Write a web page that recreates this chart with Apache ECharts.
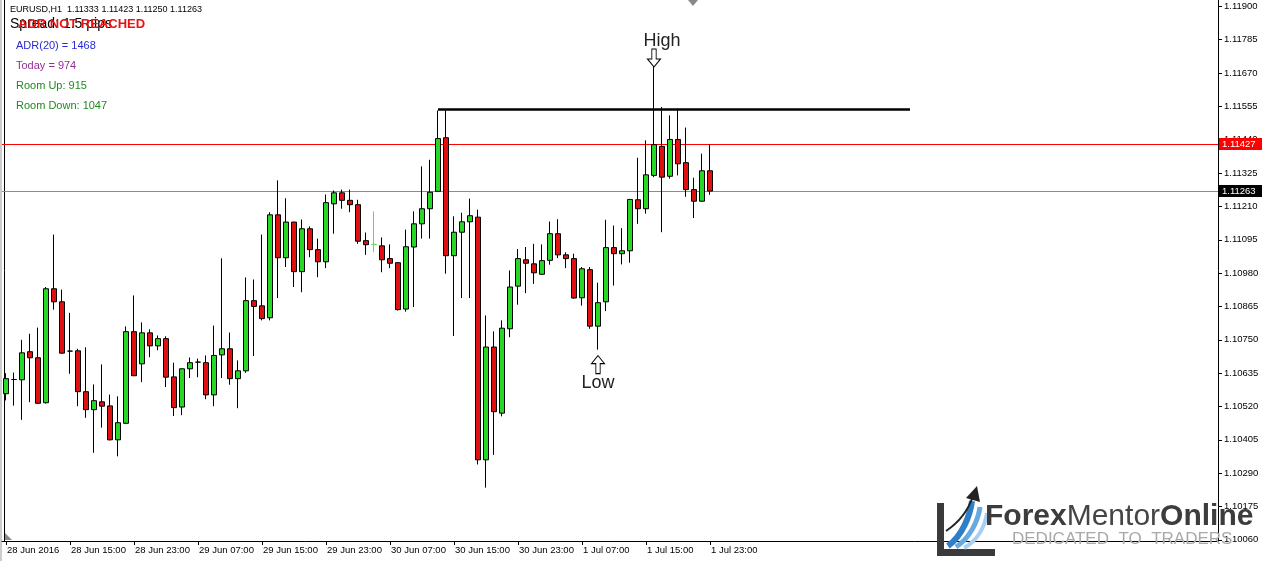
<!DOCTYPE html>
<html><head><meta charset="utf-8">
<script src="https://cdn.jsdelivr.net/npm/echarts@6/dist/echarts.min.js"></script>
<style>html,body{margin:0;padding:0;background:#fff}#c{width:1262px;height:561px}</style>
</head><body><div id="c"></div>
<script>
// EURUSD H1, 28 Jun 2016 07:00 .. 1 Jul 2016 23:00
const opens=[
1.10564,1.10613,1.10612,1.10709,1.10688,1.10533,1.10926,1.10881,1.10711,1.10712,
1.10571,1.10509,1.10536,1.10522,1.10405,1.10462,1.10778,1.10667,1.10774,1.10729,
1.10754,1.10622,1.10518,1.10650,1.10673,1.10671,1.10560,1.10698,1.10719,1.10616,
1.10643,1.10885,1.10867,1.10826,1.11181,1.11033,1.11156,1.10985,1.11133,1.11061,
1.11019,1.11219,1.11257,1.11231,1.11216,1.11092,1.11079,1.11074,1.11030,1.11016,
1.10856,1.11070,1.11150,1.11202,1.11262,1.11447,1.11040,1.11121,1.11157,1.11173,
1.10336,1.10725,1.10497,1.10788,1.10935,1.11026,1.11012,1.10976,1.11024,1.11116,
1.11043,1.11030,1.10895,1.10992,1.10797,1.10881,1.11068,1.11047,1.11057,1.11233,
1.11202,1.11317,1.11417,1.11314,1.11441,1.11361,1.11268,1.11228,1.11333];
const closes=[
1.10616,1.10613,1.10705,1.10688,1.10531,1.10926,1.10881,1.10704,1.10711,1.10571,
1.10509,1.10540,1.10521,1.10405,1.10464,1.10778,1.10626,1.10774,1.10729,1.10754,
1.10621,1.10516,1.10650,1.10671,1.10673,1.10560,1.10696,1.10719,1.10616,1.10643,
1.10885,1.10865,1.10823,1.11181,1.11033,1.11156,1.10985,1.11133,1.11061,1.11019,
1.11223,1.11257,1.11231,1.11216,1.11090,1.11078,1.11079,1.11026,1.11014,1.10854,
1.11071,1.11150,1.11202,1.11259,1.11444,1.11040,1.11121,1.11157,1.11178,1.10336,
1.10725,1.10502,1.10790,1.10932,1.11030,1.11014,1.10981,1.11023,1.11116,1.11043,
1.11030,1.10894,1.10995,1.10797,1.10878,1.11068,1.11047,1.11057,1.11234,1.11202,
1.11319,1.11423,1.11311,1.11441,1.11357,1.11268,1.11228,1.11333,1.11263];
const highs=[
1.10635,1.10637,1.10750,1.10771,1.10792,1.10932,1.11113,1.10923,1.10843,1.10719,
1.10724,1.10596,1.10665,1.10561,1.10555,1.10796,1.10903,1.10810,1.10786,1.10765,
1.10762,1.10671,1.10651,1.10689,1.10685,1.10696,1.10799,1.11031,1.10775,1.10679,
1.10965,1.10958,1.11113,1.11190,1.11300,1.11238,1.11157,1.11165,1.11141,1.11099,
1.11251,1.11265,1.11268,1.11268,1.11233,1.11120,1.11193,1.11103,1.11079,1.11017,
1.11130,1.11193,1.11348,1.11371,1.11541,1.11541,1.11176,1.11188,1.11237,1.11199,
1.10834,1.10779,1.10817,1.10989,1.11063,1.11070,1.11081,1.11079,1.11158,1.11166,
1.11052,1.11047,1.11001,1.11001,1.10947,1.11164,1.11144,1.11135,1.11236,1.11378,
1.11438,1.11691,1.11553,1.11524,1.11547,1.11482,1.11309,1.11392,1.11423];
const lows=[
1.10541,1.10523,1.10474,1.10535,1.10529,1.10530,1.10854,1.10702,1.10633,1.10521,
1.10481,1.10360,1.10447,1.10403,1.10348,1.10460,1.10625,1.10604,1.10690,1.10714,
1.10587,1.10487,1.10490,1.10618,1.10621,1.10545,1.10521,1.10618,1.10595,1.10514,
1.10636,1.10694,1.10817,1.10817,1.10894,1.11001,1.10932,1.10914,1.11035,1.10966,
1.10997,1.11116,1.11202,1.11190,1.11081,1.11043,1.11052,1.10983,1.10997,1.10851,
1.10847,1.10863,1.11099,1.11099,1.11261,1.10978,1.10763,1.10894,1.10894,1.10320,
1.10240,1.10353,1.10486,1.10759,1.10871,1.10911,1.10943,1.10974,1.11009,1.11032,
1.10997,1.10892,1.10868,1.10788,1.10716,1.10849,1.10937,1.11010,1.11016,1.11150,
1.11185,1.11311,1.11121,1.11306,1.11317,1.11243,1.11170,1.11227,1.11250];
const xTickLabels=['28 Jun 2016','28 Jun 15:00','28 Jun 23:00','29 Jun 07:00','29 Jun 15:00','29 Jun 23:00',
'30 Jun 07:00','30 Jun 15:00','30 Jun 23:00','1 Jul 07:00','1 Jul 15:00','1 Jul 23:00'];
const yTicks=[1.10060,1.10175,1.10290,1.10405,1.10520,1.10635,1.10750,1.10865,1.10980,1.11095,
1.11210,1.11325,1.11440,1.11555,1.11670,1.11785,1.11900];
const bidPrice=1.11263, askLine=1.11427, resistance=1.11545;
const infoLines=['ADR(20) = 1468','Today = 974','Room Up: 915','Room Down: 1047'];

const SLOTS=152;
const cats=[];
const t0=Date.UTC(2016,5,28,7);
for(let i=0;i<SLOTS;i++){cats.push(new Date(t0+i*3600000).toISOString().slice(0,16).replace('T',' '));}
const nBars=opens.length;
const candleData=opens.map((o,i)=>{
  const it={value:[o,closes[i],lows[i],highs[i]]};
  if(i===46){it.itemStyle={borderColor:'#5fdc5f',borderColor0:'#5fdc5f',borderColorDoji:'#5fdc5f'};}
  return it;
});
const tickShow=(i)=> i%8===0 && i<nBars;
const FF='"Liberation Sans", Arial, sans-serif';
const GL=2, GR=44;

const chart=echarts.init(document.getElementById('c'),null,{renderer:'canvas'});
chart.setOption({
  animation:false,
  backgroundColor:'#fff',
  grid:{left:GL,right:GR,top:0,bottom:20},
  xAxis:{type:'category',data:cats,boundaryGap:true,
    axisLine:{show:true,lineStyle:{color:'#000',width:1}},
    axisTick:{show:true,alignWithLabel:true,interval:(i)=>tickShow(i),length:4,lineStyle:{color:'#000'}},
    axisLabel:{interval:(i)=>tickShow(i),formatter:(v,i)=>tickShow(i)?xTickLabels[i/8]:'',align:'left',
      fontSize:9.5,fontFamily:FF,color:'#000',margin:4,padding:[0,0,0,1]},
    splitLine:{show:false}},
  yAxis:{type:'value',position:'right',min:1.10056,max:1.11922,scale:true,
    axisLine:{show:true,lineStyle:{color:'#000',width:1}},
    axisTick:{show:true,customValues:yTicks,length:4,lineStyle:{color:'#000'}},
    axisLabel:{customValues:yTicks,formatter:(v)=>v.toFixed(5),fontSize:9.5,fontFamily:FF,color:'#000',margin:6},
    splitLine:{show:false}},
  series:[
  {
    type:'candlestick',data:candleData,barWidth:5,z:3,
    itemStyle:{color:'#27d827',color0:'#e01010',borderColor:'#000',borderColor0:'#000',borderColorDoji:'#000',borderWidth:1},
    emphasis:{disabled:true},
    markLine:{silent:true,symbol:['none','none'],animation:false,precision:5,
      data:[
        [{coord:[cats[54],resistance],lineStyle:{color:'#000',width:2.5,type:'solid'},label:{show:false}},
         {coord:[cats[113],resistance],lineStyle:{color:'#000',width:2.5,type:'solid'},label:{show:false}}]
      ]},
    markPoint:{silent:true,animation:false,
      data:[
        {name:'High',coord:[cats[81],highs[81]],symbol:'path://M4,0L8,0L8,10L12,10L6,18L0,10L4,10Z',
          symbolSize:[13,18],symbolOffset:[0,-9],itemStyle:{color:'#fff',borderColor:'#000',borderWidth:1},
          label:{show:true,position:'top',distance:-2,offset:[8,0],formatter:'High',fontSize:18,fontFamily:FF,color:'#222'}},
        {name:'Low',coord:[cats[74],lows[74]],symbol:'path://M6,0L12,8L8,8L8,18L4,18L4,8L0,8Z',
          symbolSize:[13,18],symbolOffset:[0,15],itemStyle:{color:'#fff',borderColor:'#000',borderWidth:1},
          label:{show:true,position:'bottom',distance:0,formatter:'Low',fontSize:18,fontFamily:FF,color:'#222'}}
      ]}
  }]
});

// horizontal price lines placed through the y axis scale
const W=chart.getWidth();
const xR=W-GR;
function priceLine(val,color,boxColor){
  const y=Math.round(chart.convertToPixel({yAxisIndex:0},val))+0.5;
  return [
    {type:'line',z:2,shape:{x1:GL,y1:y,x2:xR,y2:y},style:{stroke:color,lineWidth:1},silent:true},
    {type:'rect',z:50,shape:{x:xR+1,y:y-6.5,width:W-xR-1,height:12},style:{fill:boxColor},silent:true},
    {type:'text',z:51,x:xR+4,y:y,style:{text:val.toFixed(5),fontSize:9.5,fontFamily:FF,fill:'#fff',verticalAlign:'middle'},silent:true}
  ];
}
const g=[
    {type:'line',shape:{x1:1,y1:0,x2:1,y2:561},style:{stroke:'#9a9a9a',lineWidth:1},silent:true},
    {type:'line',shape:{x1:4.5,y1:0,x2:4.5,y2:541},style:{stroke:'#000',lineWidth:1},silent:true},
    {type:'polygon',shape:{points:[[688,0],[698,0],[693,6]]},style:{fill:'#8a8a8a'},silent:true},
    {type:'polygon',shape:{points:[[5,533],[5,540],[12,540]]},style:{fill:'#8a8a8a'},silent:true},
    {type:'text',x:10,y:10,style:{text:'EURUSD,H1  1.11333 1.11423 1.11250 1.11263',fontSize:9,fontFamily:FF,fill:'#000',verticalAlign:'middle'},silent:true},
    {type:'text',x:10,y:24,style:{text:'Spread: 1.5 pips',fontSize:14,fontFamily:FF,fill:'#000',verticalAlign:'middle'},silent:true},
    {type:'text',x:18,y:24,style:{text:'ADR NOT REACHED',fontSize:13,fontWeight:'bold',fontFamily:FF,fill:'#ee1111',verticalAlign:'middle'},silent:true},
    {type:'text',x:16,y:46,style:{text:infoLines[0],fontSize:11,fontFamily:FF,fill:'#2a2ad4',verticalAlign:'middle'},silent:true},
    {type:'text',x:16,y:66,style:{text:infoLines[1],fontSize:11,fontFamily:FF,fill:'#962e96',verticalAlign:'middle'},silent:true},
    {type:'text',x:16,y:86,style:{text:infoLines[2],fontSize:11,fontFamily:FF,fill:'#1f8a1f',verticalAlign:'middle'},silent:true},
    {type:'text',x:16,y:106,style:{text:infoLines[3],fontSize:11,fontFamily:FF,fill:'#1f8a1f',verticalAlign:'middle'},silent:true},
    // logo
    {type:'polygon',z:100,shape:{points:[[937,503],[944,503],[944,549],[995,549],[995,556],[937,556]]},style:{fill:'#3a3a3a'},silent:true},
    {type:'bezierCurve',z:100,shape:{x1:948,y1:546,cpx1:962,cpy1:536,cpx2:970,cpy2:516,x2:972,y2:501},style:{stroke:'#2f7fc8',lineWidth:6,fill:'none'},silent:true},
    {type:'bezierCurve',z:100,shape:{x1:956,y1:547,cpx1:970,cpy1:538,cpx2:978,cpy2:521,x2:980,y2:507},style:{stroke:'#68a9e0',lineWidth:5,fill:'none'},silent:true},
    {type:'bezierCurve',z:100,shape:{x1:964,y1:548,cpx1:978,cpy1:540,cpx2:985,cpy2:526,x2:987,y2:513},style:{stroke:'#a8cff0',lineWidth:4,fill:'none'},silent:true},
    {type:'bezierCurve',z:101,shape:{x1:946,y1:531,cpx1:958,cpy1:523,cpx2:968,cpy2:511,x2:973,y2:496},style:{stroke:'#222',lineWidth:2,fill:'none'},silent:true},
    {type:'polygon',z:101,shape:{points:[[966,498],[977,486],[980,502]]},style:{fill:'#222'},silent:true},
    {type:'text',z:100,x:985,y:517,style:{text:'{a|Forex}{b|Mentor}{a|Online}',verticalAlign:'middle',
      rich:{a:{fontSize:30,fontWeight:'bold',fontFamily:FF,fill:'#3c3c3c'},b:{fontSize:30,fontFamily:FF,fill:'#454545'}}},silent:true},
    {type:'text',z:100,x:1012,y:539,style:{text:'DEDICATED  TO  TRADERS',fontSize:17,fontFamily:FF,fill:'#a9a9a9',verticalAlign:'middle'},silent:true}
].concat(priceLine(askLine,'#ff0000','#ff0000'), priceLine(bidPrice,'#8c8c8c','#000000'));
chart.setOption({graphic:g});
</script></body></html>
